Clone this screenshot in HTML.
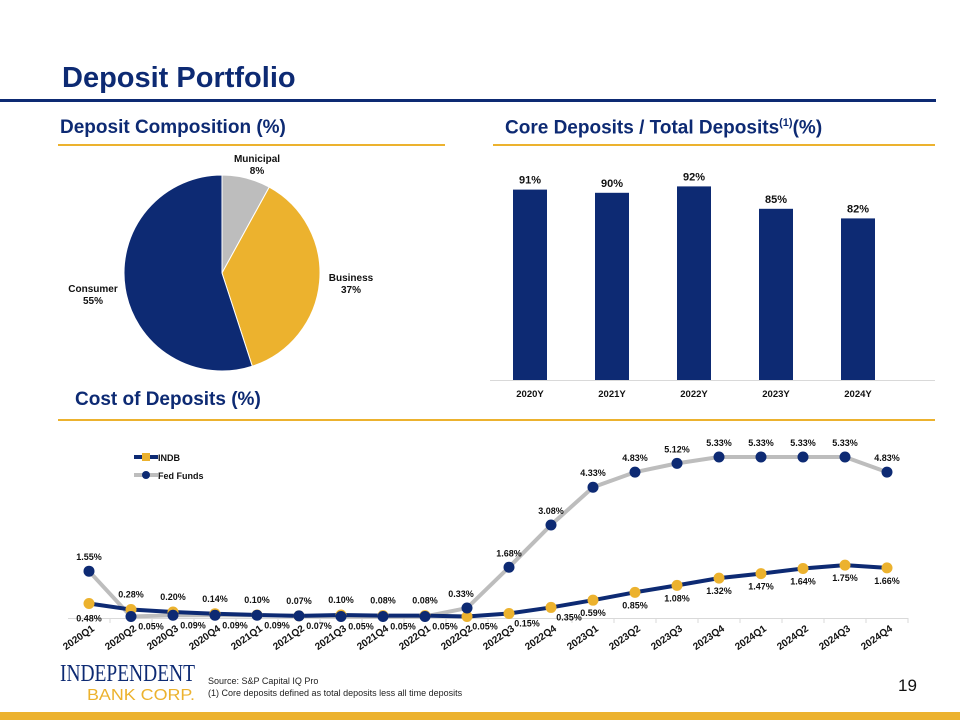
<!DOCTYPE html>
<html><head><meta charset="utf-8"><style>
body{margin:0;width:960px;height:720px;background:#fff;position:relative;overflow:hidden;font-family:"Liberation Sans",Arial,sans-serif}
.a{position:absolute}
</style></head><body>
<div class="a" style="left:62px;top:62px;font-size:29px;font-weight:bold;color:#0d2a73">Deposit Portfolio</div>
<div class="a" style="left:0;top:99px;width:936px;height:3px;background:#0d2a73"></div>
<div class="a" style="left:60px;top:117px;font-size:19px;font-weight:bold;color:#0d2a73">Deposit Composition (%)</div>
<div class="a" style="left:58px;top:144px;width:387px;height:2px;background:#ecb22e"></div>
<div class="a" style="left:505px;top:117px;font-size:19px;font-weight:bold;color:#0d2a73">Core Deposits / Total Deposits<sup style="font-size:11px">(1)</sup>(%)</div>
<div class="a" style="left:493px;top:144px;width:442px;height:2px;background:#ecb22e"></div>
<div class="a" style="left:75px;top:389px;font-size:19px;font-weight:bold;color:#0d2a73">Cost of Deposits (%)</div>
<div class="a" style="left:58px;top:419px;width:877px;height:2px;background:#ecb22e"></div>
<div class="a" style="left:0;top:712px;width:960px;height:8px;background:#ecb22e"></div>
<div class="a" style="left:208px;top:675px;font-size:9px;color:#222;line-height:12px">Source: S&amp;P Capital IQ Pro<br>(1) Core deposits defined as total deposits less all time deposits</div>
<div class="a" style="left:898px;top:676px;font-size:17px;color:#111">19</div>
<svg class="a" style="left:0;top:0" width="960" height="720" id="svg" font-family="Liberation Sans, Arial, sans-serif">
<text x="60" y="681" font-family="Liberation Serif, serif" font-size="24" fill="#0d2a73" textLength="135" lengthAdjust="spacingAndGlyphs">INDEPENDENT</text>
<text x="87" y="700" font-size="16" fill="#ecb22e" textLength="108" lengthAdjust="spacingAndGlyphs">BANK CORP.</text>
</svg>
<script>
const pieLabels=["Municipal","Business","Consumer"];
const pieValues=[8,37,55];
const barCats=["2020Y","2021Y","2022Y","2023Y","2024Y"];
const barValues=[91,90,92,85,82];
const quarters=["2020Q1","2020Q2","2020Q3","2020Q4","2021Q1","2021Q2","2021Q3","2021Q4","2022Q1","2022Q2","2022Q3","2022Q4","2023Q1","2023Q2","2023Q3","2023Q4","2024Q1","2024Q2","2024Q3","2024Q4"];
const indb=[0.48,0.28,0.20,0.14,0.10,0.07,0.10,0.08,0.08,0.05,0.15,0.35,0.59,0.85,1.08,1.32,1.47,1.64,1.75,1.66];
const fed=[1.55,0.05,0.09,0.09,0.09,0.07,0.05,0.05,0.05,0.33,1.68,3.08,4.33,4.83,5.12,5.33,5.33,5.33,5.33,4.83];
const NS="http://www.w3.org/2000/svg",svg=document.getElementById('svg');
function mk(t,a,p){const e=document.createElementNS(NS,t);for(const k in a)e.setAttribute(k,a[k]);(p||svg).appendChild(e);return e}
function tx(x,y,s,o){const e=mk('text',Object.assign({x:x,y:y,'font-size':9,'font-weight':'bold','text-anchor':'middle',fill:'#111'},o||{}));e.textContent=s;return e}
// pie
const cx=222,cy=273,r=98,colors=["#bdbdbd","#ecb22e","#0d2a73"],tot=pieValues.reduce((a,b)=>a+b,0);
let ang=0;
pieValues.forEach((v,i)=>{const a0=ang,a1=ang+v/tot*2*Math.PI;ang=a1;
const p=(a)=>[cx+r*Math.sin(a),cy-r*Math.cos(a)];const [x0,y0]=p(a0),[x1,y1]=p(a1);
const s=mk('path',{d:`M${cx},${cy}L${x0},${y0}A${r},${r} 0 ${a1-a0>Math.PI?1:0} 1 ${x1},${y1}Z`,fill:colors[i],stroke:'#fff','stroke-width':1});

});
const pl=[[257,162],[351,281],[93,292]];
pieLabels.forEach((l,i)=>{tx(pl[i][0],pl[i][1],l,{'font-size':10});tx(pl[i][0],pl[i][1]+12,pieValues[i]+'%',{'font-size':10});});
// bars
const bx=i=>530+i*82,by=v=>380-(v-31.5)*3.2;
mk('line',{x1:490,x2:935,y1:380.5,y2:380.5,stroke:'#d9d9d9'});
barValues.forEach((v,i)=>{const b=mk('rect',{x:bx(i)-17,y:by(v),width:34,height:380-by(v),fill:'#0d2a73'});


tx(bx(i),by(v)-6,v+'%',{'font-size':11});tx(bx(i),397,barCats[i],{'font-size':9.5});});
// line chart
const lx=i=>89+i*42,ly=v=>618-v*30.2;
mk('line',{x1:68,x2:908,y1:618.5,y2:618.5,stroke:'#d9d9d9'});
quarters.forEach((q,i)=>{mk('line',{x1:lx(i)+21,x2:lx(i)+21,y1:618,y2:623,stroke:'#d9d9d9'});
tx(0,0,q,{'font-size':10,'text-anchor':'end',transform:`translate(${lx(i)+6},${630}) rotate(-35)`});});
const fl=mk('polyline',{points:fed.map((v,i)=>lx(i)+','+ly(v)).join(' '),fill:'none',stroke:'#bdbdbd','stroke-width':4});

const il=mk('polyline',{points:indb.map((v,i)=>lx(i)+','+ly(v)).join(' '),fill:'none',stroke:'#0d2a73','stroke-width':4});

indb.forEach((v,i)=>{const c=mk('circle',{cx:lx(i),cy:ly(v),r:5.5,fill:'#ecb22e'});

let x=lx(i),y;
if(i==0){y=ly(v)+18;}
else if(i<=8){y=ly(v)-12;}
else if(i<=11){x=lx(i)+18;y=ly(v)+13;}
else{y=ly(v)+16;}
tx(x,y,v.toFixed(2)+'%');});
fed.forEach((v,i)=>{const c=mk('circle',{cx:lx(i),cy:ly(v),r:5.5,fill:'#0d2a73'});

if(i>=1&&i<=8)tx(lx(i)+20,ly(v)+13,v.toFixed(2)+'%');else tx(lx(i)-(i==9?6:0),ly(v)-11,v.toFixed(2)+'%');});
// legend
const g1=mk('g',{});
mk('line',{x1:134,x2:158,y1:457,y2:457,stroke:'#0d2a73','stroke-width':4},g1);mk('rect',{x:142,y:453,width:8,height:8,fill:'#ecb22e'},g1);
tx(158,461,'INDB',{'text-anchor':'start'});
const g2=mk('g',{});
mk('line',{x1:134,x2:158,y1:475,y2:475,stroke:'#bdbdbd','stroke-width':4},g2);mk('circle',{cx:146,cy:475,r:4,fill:'#0d2a73'},g2);
tx(158,479,'Fed Funds',{'text-anchor':'start'});
</script>
</body></html>
